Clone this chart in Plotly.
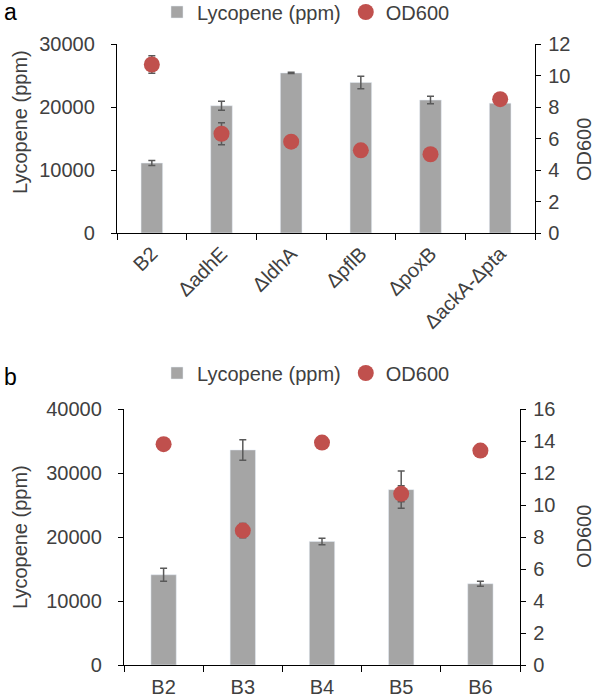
import plotly.graph_objects as go

# Panel a data
cats_a = ["B2", "ΔadhE", "ΔldhA", "ΔpflB", "ΔpoxB", "ΔackA-Δpta"]
lyc_a = [11100, 20200, 25400, 23900, 21100, 20600]
lyc_a_err = [400, 700, 100, 1000, 600, 300]
od_a = [10.7, 6.3, 5.8, 5.25, 5.0, 8.5]
od_a_err = [0.55, 0.7, 0.05, 0.05, 0.05, 0.2]

# Panel b data
cats_b = ["B2", "B3", "B4", "B5", "B6"]
lyc_b = [14100, 33600, 19300, 27400, 12700]
lyc_b_err = [1000, 1600, 500, 2900, 400]
od_b = [13.8, 8.4, 13.9, 10.7, 13.4]
od_b_err = [0.05, 0.45, 0.05, 0.5, 0.05]

BAR = "#a5a5a5"
DOT = "#c0504d"
ERR = "#595959"
TXT = "#404040"
FONT = "Liberation Sans, Arial, sans-serif"
W, H = 599, 698

fig = go.Figure()

def err(vals):
    return dict(type="data", array=vals, visible=True, color=ERR, thickness=1.5, width=3.5)

fig.add_trace(go.Bar(x=cats_a, y=lyc_a, error_y=err(lyc_a_err), marker_color=BAR,
                     width=0.31, name="Lycopene (ppm)", xaxis="x", yaxis="y", legend="legend"))
fig.add_trace(go.Scatter(x=cats_a, y=od_a, error_y=err(od_a_err), mode="markers",
                         marker=dict(color=DOT, size=16), name="OD600", xaxis="x", yaxis="y2",
                         legend="legend"))
fig.add_trace(go.Bar(x=cats_b, y=lyc_b, error_y=err(lyc_b_err), marker_color=BAR,
                     width=0.32, name="Lycopene (ppm)", xaxis="x2", yaxis="y3", legend="legend2"))
fig.add_trace(go.Scatter(x=cats_b, y=od_b, error_y=err(od_b_err), mode="markers",
                         marker=dict(color=DOT, size=16), name="OD600", xaxis="x2", yaxis="y4",
                         legend="legend2"))

axis_common = dict(showline=True, linecolor="#000000", linewidth=1.3, ticks="outside",
                   ticklen=5, tickcolor="#000000", showgrid=False, zeroline=False,
                   tickfont=dict(family=FONT, size=20, color=TXT))

def py(px):
    return 1 - px / H

def pxx(px):
    return px / W

fig.update_layout(
    width=W, height=H,
    margin=dict(l=0, r=0, t=0, b=0, autoexpand=False),
    paper_bgcolor="white", plot_bgcolor="white",
    font=dict(family=FONT, size=20, color=TXT),
    xaxis=dict(axis_common, domain=[pxx(117), pxx(535)], anchor="y", type="category",
               tickson="boundaries", ticklen=6, tickangle=-45, automargin=False),
    yaxis=dict(axis_common, domain=[py(233), py(44)], anchor="x", range=[0, 30000],
               dtick=10000, tickformat="d", ticklabelstandoff=12, automargin=False),
    yaxis2=dict(axis_common, overlaying="y", side="right", anchor="x", range=[0, 12], dtick=2,
                ticklabelstandoff=3, automargin=False),
    xaxis2=dict(axis_common, domain=[pxx(124), pxx(520)], anchor="y3", type="category",
                tickson="boundaries", ticklen=6, ticklabelstandoff=4, automargin=False),
    yaxis3=dict(axis_common, domain=[py(665), py(409)], anchor="x2", range=[0, 40000],
                dtick=10000, tickformat="d", ticklabelstandoff=12, automargin=False),
    yaxis4=dict(axis_common, overlaying="y3", side="right", anchor="x2", range=[0, 16], dtick=2,
                ticklabelstandoff=3, automargin=False),
    legend=dict(orientation="h", x=pxx(306), xanchor="center", y=py(12), yanchor="middle",
                font=dict(family=FONT, size=20, color=TXT), bgcolor="rgba(0,0,0,0)"),
    legend2=dict(orientation="h", x=pxx(306), xanchor="center", y=py(373), yanchor="middle",
                 font=dict(family=FONT, size=20, color=TXT), bgcolor="rgba(0,0,0,0)"),
    showlegend=True,
    annotations=[
        dict(text="Lycopene (ppm)", x=pxx(20), y=py(122), xref="paper", yref="paper",
             xanchor="center", yanchor="middle",
             textangle=-90, showarrow=False, font=dict(family=FONT, size=20, color=TXT)),
        dict(text="OD600", x=pxx(584), y=py(150), xref="paper", yref="paper",
             xanchor="center", yanchor="middle",
             textangle=-90, showarrow=False, font=dict(family=FONT, size=20, color=TXT)),
        dict(text="Lycopene (ppm)", x=pxx(20), y=py(537), xref="paper", yref="paper",
             xanchor="center", yanchor="middle",
             textangle=-90, showarrow=False, font=dict(family=FONT, size=20, color=TXT)),
        dict(text="OD600", x=pxx(584), y=py(537), xref="paper", yref="paper",
             xanchor="center", yanchor="middle",
             textangle=-90, showarrow=False, font=dict(family=FONT, size=20, color=TXT)),
        dict(text="a", x=pxx(10), y=py(12), xref="paper", yref="paper", showarrow=False,
             xanchor="center", yanchor="middle",
             font=dict(family=FONT, size=23, color="#000000")),
        dict(text="b", x=pxx(10), y=py(377), xref="paper", yref="paper", showarrow=False,
             xanchor="center", yanchor="middle",
             font=dict(family=FONT, size=23, color="#000000")),
    ],
)

fig.write_html("out.html", config={"displayModeBar": False},
               post_script="document.body.style.margin='0';document.body.style.overflow='hidden';")
